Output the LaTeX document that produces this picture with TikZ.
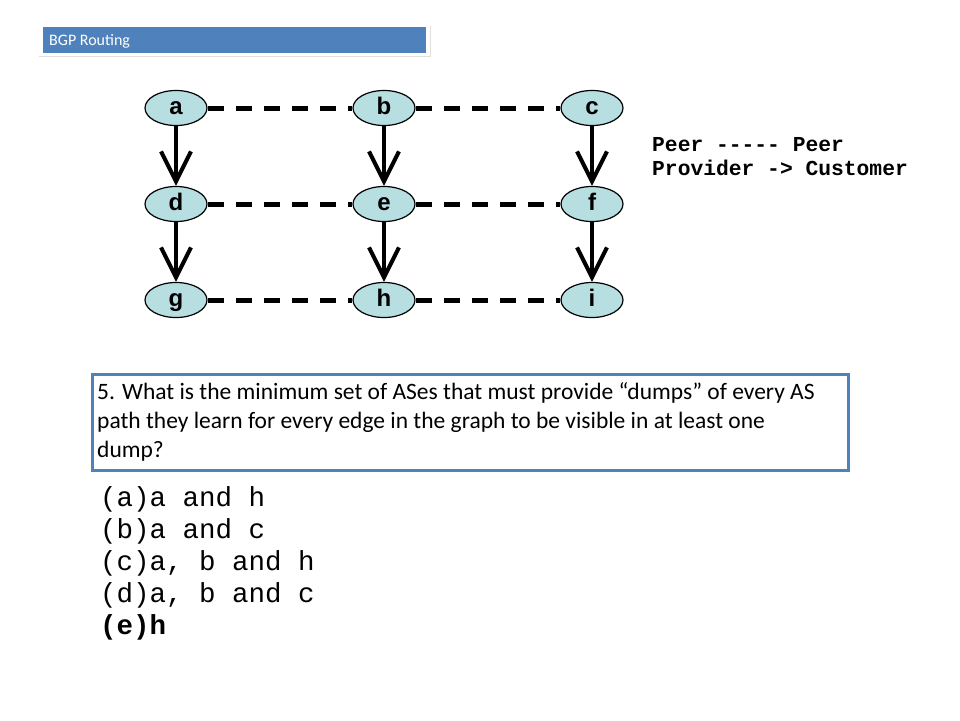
\documentclass[tikz,border=0pt]{standalone}
\usepackage{fontspec}
\setmainfont{Carlito}
\newfontfamily\nodefont{Liberation Sans}
\newfontfamily\monofont{Liberation Mono}
\usetikzlibrary{shapes.geometric,arrows.meta}
\definecolor{asfill}{RGB}{183,222,224}
\definecolor{barblue}{RGB}{79,129,189}
\definecolor{boxblue}{RGB}{79,129,189}
\tikzset{
  asnode/.style={ellipse,draw=black,line width=1.2pt,fill=asfill,minimum width=62pt,minimum height=35pt,inner sep=0pt,text height=17pt,text depth=5pt,font=\nodefont\fontsize{24}{24}\selectfont\bfseries},
  peerline/.style={line width=5pt,dash pattern=on 16pt off 12pt},
  provline/.style={line width=4pt,-{Straight Barb[length=30pt,width=30pt,line width=4pt]}},
  qtext/.style={anchor=base west,inner sep=0pt,font=\fontsize{23.5}{23.5}\selectfont},
  opttext/.style={anchor=base west,inner sep=0pt,font=\monofont\fontsize{27.5}{27.5}\selectfont},
  legtext/.style={anchor=base west,inner sep=0pt,font=\monofont\fontsize{21.3}{21.3}\selectfont\bfseries},
}
\begin{document}
\begin{tikzpicture}[x=1pt,y=-1pt]
\useasboundingbox (0,0) rectangle (960,720);
% title bar
\fill[black!12] (39,26) rectangle (431,57);
\fill[white] (38,25) rectangle (430,56);
\fill[barblue] (43,27) rectangle (426,53);
\node[anchor=base west,text=white,font=\fontsize{16}{16}\selectfont,inner sep=0pt] (title) at (49,45.5) {BGP Routing};
% nodes
\node[asnode] (a) at (176,108) {a};
\node[asnode] (b) at (384,108) {b};
\node[asnode] (c) at (592,108) {c};
\node[asnode] (d) at (176,204) {d};
\node[asnode] (e) at (384,204) {e};
\node[asnode] (f) at (592,204) {f};
\node[asnode] (g) at (176,300) {g};
\node[asnode] (h) at (384,300) {h};
\node[asnode] (i) at (592,300) {i};
% peer links
\foreach \u/\v in {a/b,b/c,d/e,e/f,g/h,h/i}{
  \draw[peerline] (\u.east) -- (\v.west);
}
% provider links
\foreach \u/\v in {a/d,b/e,c/f,d/g,e/h,f/i}{
  \draw[provline] (\u.south) -- (\v.north);
}
% legend
\node[legtext] (leg1) at (652,151) {Peer ----- Peer};
\node[legtext] (leg2) at (652,175) {Provider -> Customer};
% question box
\draw[boxblue,line width=3pt,fill=white] (92,374) rectangle (848,470);
\node[qtext] (q1) at (97,399) {5. What is the minimum set of ASes that must provide “dumps” of every AS};
\node[qtext] (q2) at (97,428) {path they learn for every edge in the graph to be visible in at least one};
\node[qtext] (q3) at (97,457) {dump?};
% options
\node[opttext] (oa) at (100,506) {(a)a and h};
\node[opttext] (ob) at (100,538) {(b)a and c};
\node[opttext] (oc) at (100,570) {(c)a, b and h};
\node[opttext] (od) at (100,602) {(d)a, b and c};
\node[opttext,font=\monofont\fontsize{27.5}{27.5}\selectfont\bfseries] (oe) at (100,634) {(e)h};
\end{tikzpicture}
\end{document}
